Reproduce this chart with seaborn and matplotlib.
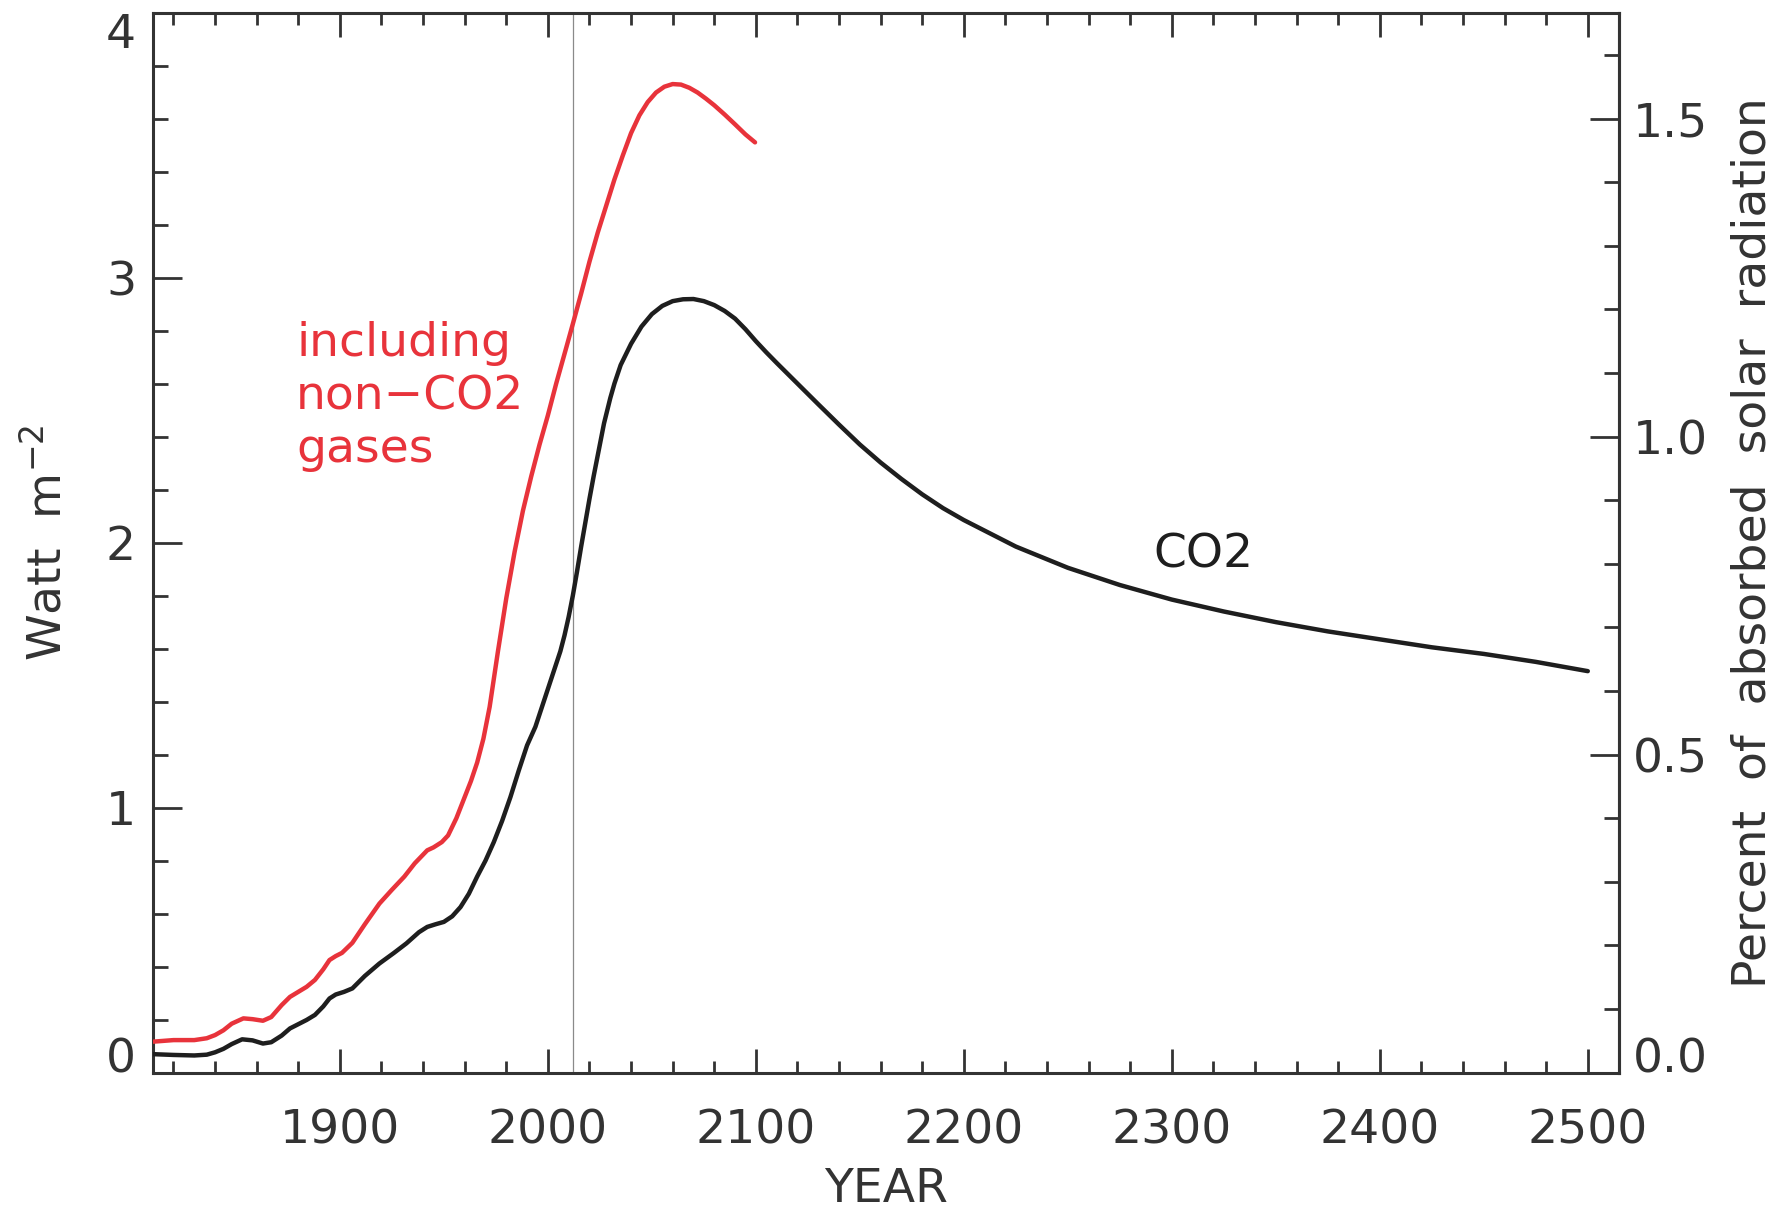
import numpy as np
import pandas as pd
import matplotlib
matplotlib.use("Agg")
import matplotlib.pyplot as plt
from matplotlib.ticker import MultipleLocator
import seaborn as sns

# ---- data ----
co2_years = [1810, 1820, 1830, 1836, 1840, 1844, 1848, 1853, 1858, 1863, 1867, 1872, 1876, 1880,
             1884, 1888, 1892, 1895, 1898, 1902, 1906, 1912, 1919, 1926, 1932, 1938, 1942,
             1946, 1950, 1954, 1958, 1962, 1966, 1970, 1974, 1978, 1982, 1986, 1990, 1994,
             1998, 2002, 2006, 2008, 2010, 2012, 2014, 2016, 2018, 2020, 2022, 2025, 2027,
             2030, 2032, 2035, 2040, 2045, 2050, 2055, 2060, 2065, 2070, 2075, 2080, 2085,
             2090, 2095, 2100, 2105, 2110, 2120, 2130, 2140, 2150, 2160, 2170, 2180, 2190,
             2200, 2225, 2250, 2275, 2300, 2325, 2350, 2375, 2400, 2425, 2450, 2475, 2500]
co2_forcing = [0.070, 0.067, 0.065, 0.068, 0.077, 0.090, 0.108, 0.126, 0.122, 0.110, 0.115, 0.140,
               0.167, 0.183, 0.199, 0.218, 0.250, 0.280, 0.295, 0.305, 0.318, 0.365, 0.412, 0.452,
               0.488, 0.530, 0.550, 0.560, 0.569, 0.590, 0.625, 0.675, 0.740, 0.800, 0.870, 0.950,
               1.040, 1.140, 1.235, 1.305, 1.400, 1.495, 1.590, 1.650, 1.720, 1.800, 1.890, 1.985,
               2.075, 2.165, 2.250, 2.370, 2.450, 2.545, 2.600, 2.670, 2.750, 2.815, 2.862, 2.893,
               2.911, 2.918, 2.919, 2.911, 2.896, 2.874, 2.845, 2.805, 2.760, 2.718, 2.678, 2.600,
               2.522, 2.445, 2.370, 2.302, 2.240, 2.182, 2.130, 2.085, 1.985, 1.905, 1.840, 1.785,
               1.740, 1.700, 1.665, 1.635, 1.605, 1.580, 1.550, 1.515]

all_years = [1810, 1820, 1830, 1836, 1840, 1844, 1848, 1853.6, 1858, 1863, 1867, 1872, 1876,
             1880, 1884, 1888, 1892, 1895, 1898, 1901, 1906, 1912, 1919, 1925, 1931, 1936,
             1942, 1945, 1949, 1952, 1956, 1960, 1963, 1966, 1969, 1972, 1976, 1980, 1984,
             1988, 1992, 1996, 2000, 2004, 2009, 2012, 2016, 2020, 2024, 2028, 2032, 2036,
             2040, 2044, 2048, 2052, 2056, 2060, 2064, 2068, 2072, 2076, 2080, 2085, 2090,
             2095, 2099.6]
all_forcing = [0.117, 0.123, 0.123, 0.130, 0.142, 0.160, 0.185, 0.205, 0.202, 0.196, 0.210, 0.255,
               0.286, 0.305, 0.324, 0.350, 0.390, 0.425, 0.440, 0.452, 0.490, 0.560, 0.638, 0.690,
               0.740, 0.790, 0.839, 0.850, 0.870, 0.895, 0.960, 1.040, 1.100, 1.170, 1.260, 1.380,
               1.590, 1.790, 1.965, 2.120, 2.250, 2.370, 2.480, 2.600, 2.740, 2.825, 2.940, 3.060,
               3.170, 3.270, 3.370, 3.460, 3.545, 3.612, 3.662, 3.698, 3.720, 3.730, 3.728, 3.716,
               3.698, 3.675, 3.650, 3.615, 3.578, 3.540, 3.510]

marker_year = 2012
absorbed_solar = 2.4  # W m-2 per 1 % of absorbed solar radiation

x_major = [1900, 2000, 2100, 2200, 2300, 2400, 2500]
y_major = [0, 1, 2, 3, 4]
pct_major = [0.0, 0.5, 1.0, 1.5]

co2_df = pd.DataFrame({"year": co2_years, "forcing": co2_forcing})
all_df = pd.DataFrame({"year": all_years, "forcing": all_forcing})

# ---- style ----
sns.set_theme(style="white")
plt.rcParams["font.family"] = ["DejaVu Sans"]
plt.rcParams["mathtext.fontset"] = "dejavusans"

AX_COL = "#333333"
RED = "#e8333b"
FS = 34

fig = plt.figure(figsize=(17.73, 12.12), dpi=100)
ax = fig.add_axes([152.7 / 1773, 1 - 1072.7 / 1212, (1619 - 152.7) / 1773, (1072.7 - 12.5) / 1212])

ax.axvline(marker_year, color="#8a8a8a", lw=0.9, zorder=1)
sns.lineplot(data=all_df, x="year", y="forcing", ax=ax, color=RED, lw=3.2, sort=False, zorder=3)
sns.lineplot(data=co2_df, x="year", y="forcing", ax=ax, color="#1e1e1e", lw=3.2, sort=False, zorder=3)
for ln in ax.lines:
    ln.set_solid_joinstyle("round")
    ln.set_solid_capstyle("round")

ax.set_xlim(1810, 2515)
ax.set_ylim(0, 4)

for sp in ax.spines.values():
    sp.set_color(AX_COL)
    sp.set_linewidth(2.2)

ax.set_xticks(x_major)
ax.set_xticklabels([str(v) for v in x_major])
ax.xaxis.set_minor_locator(MultipleLocator(20))
ax.set_yticks(y_major)
ax.set_yticklabels([str(v) for v in y_major])
ax.yaxis.set_minor_locator(MultipleLocator(0.2))

ax.tick_params(axis="x", which="both", direction="in", top=True, bottom=True,
               color=AX_COL, width=2.0, labelsize=FS, labelcolor=AX_COL, pad=26)
ax.tick_params(axis="x", which="major", length=17)
ax.tick_params(axis="x", which="minor", length=8.5)
ax.tick_params(axis="y", which="both", direction="in", left=True, right=False,
               color=AX_COL, width=2.0, labelsize=FS, labelcolor=AX_COL, pad=12)
ax.tick_params(axis="y", which="major", length=21)
ax.tick_params(axis="y", which="minor", length=10.5)

# end labels sit inside the frame, as in the reference
ylabs = ax.get_yticklabels()
ylabs[0].set_verticalalignment("baseline")
ylabs[-1].set_verticalalignment("top")

sec = ax.secondary_yaxis("right", functions=(lambda w: w / absorbed_solar,
                                             lambda p: p * absorbed_solar))
sec.set_yticks(pct_major)
sec.set_yticklabels([f"{v:.1f}" for v in pct_major])
sec.yaxis.set_minor_locator(MultipleLocator(0.1))
sec.tick_params(axis="y", which="both", direction="in", color=AX_COL, width=2.0,
                labelsize=FS, labelcolor=AX_COL, pad=10)
sec.tick_params(axis="y", which="major", length=21)
sec.tick_params(axis="y", which="minor", length=10.5)
sec.spines["right"].set_color(AX_COL)
sec.spines["right"].set_linewidth(2.2)
sec.get_yticklabels()[0].set_verticalalignment("baseline")

ax.set_xlabel("YEAR", fontsize=FS, color=AX_COL)
ax.xaxis.set_label_coords(0.5, -0.089)
ax.set_ylabel("Watt  m$^{-2}$", fontsize=FS, color=AX_COL)
ax.yaxis.set_label_coords(-0.056, 0.5)
sec.set_ylabel("Percent  of  absorbed  solar  radiation", fontsize=FS, color=AX_COL,
               labelpad=16)

ax.text(1879, 2.75, "including", color=RED, fontsize=FS, ha="left", va="center")
ax.text(1879, 2.55, "non\u2212CO2", color=RED, fontsize=FS, ha="left", va="center")
ax.text(1879, 2.35, "gases", color=RED, fontsize=FS, ha="left", va="center")
ax.text(2315, 1.955, "CO2", color="#1e1e1e", fontsize=FS, ha="center", va="center")

fig.savefig("out.png", dpi=100)
